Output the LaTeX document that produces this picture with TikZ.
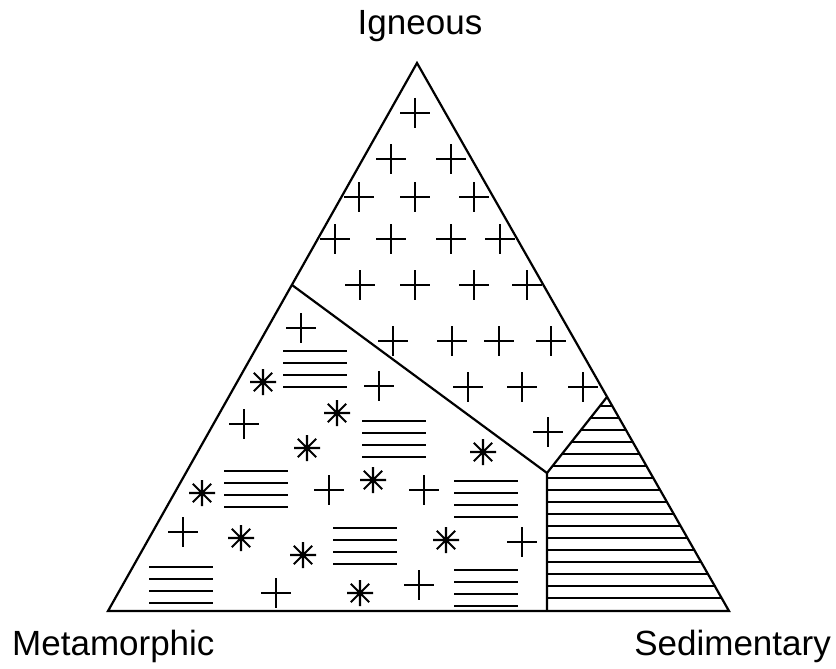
\documentclass[tikz,border=0pt]{standalone}
\usepackage{fontspec}
\setmainfont{Liberation Sans}
\begin{document}
\begin{tikzpicture}[x=1pt,y=-1pt,
  outline/.style={line width=2.2pt,line join=miter},
  hatch/.style={line width=1.7pt},
  sym/.style={line width=2.1pt},
  lbl/.style={inner sep=0pt,font=\fontsize{35}{40}\selectfont},
  plussym/.pic={\draw[sym] (-15,0) -- (15,0) (0,-15) -- (0,15);},
  starsym/.pic={\draw[sym] (-13,0) -- (13,0) (0,-13) -- (0,13) (-9.2,-9.2) -- (9.2,9.2) (-9.2,9.2) -- (9.2,-9.2);},
  linesym/.pic={\foreach \k in {0,1,2,3} \draw[sym] (0,12*\k) -- (64,12*\k);}
]
\useasboundingbox (0,0) rectangle (836,669);
\coordinate (I) at (417,63);
\coordinate (M) at (108,611);
\coordinate (S) at (729,611);
\coordinate (L) at (292,285);
\coordinate (J) at (547,473);
\coordinate (R) at (607,397);
\coordinate (B) at (547,611);

% sedimentary hatching
\begin{scope}
  \clip (J) -- (R) -- (S) -- (B) -- cycle;
  \foreach \y in {406,418,...,598} \draw[hatch] (540,\y) -- (740,\y);
\end{scope}

% outlines
\draw[outline] (I) -- (M) -- (S) -- cycle;
\draw[outline] (L) -- (J) -- (B);
\draw[outline] (J) -- (R);

% igneous crosses
\foreach \p in {(415,113),(391,159),(451,159),(359,197),(415,197),(474,197),
  (335,239),(391,239),(451,239),(500,239),(360,285),(415,285),(474,285),(527,285),
  (393,341),(452,341),(499,341),(551,341),(468,387),(522,387),(583,387),(548,432)}
  \pic at \p {plussym};

% metamorphic symbols
\foreach \p in {(301,328),(379,386),(244,424),(329,490),(424,490),(183,532),(522,542),(276,593),(419,585)}
  \pic at \p {plussym};
\foreach \p in {(263,382),(337,413),(307,448),(483,452),(202,493),(373,480),(241,538),(303,555),(446,540),(360,593)}
  \pic at \p {starsym};
\foreach \p in {(283,351),(362,421),(224,471),(454,481),(333,528),(149,567),(454,570)}
  \pic at \p {linesym};

% labels
\node[lbl,anchor=base] (ign) at (420,35) {Igneous};
\node[lbl,anchor=base west] (met) at (12,655) {Metamorphic};
\node[lbl,anchor=base east] (sed) at (831,655) {Sedimentary};
\end{tikzpicture}
\end{document}
